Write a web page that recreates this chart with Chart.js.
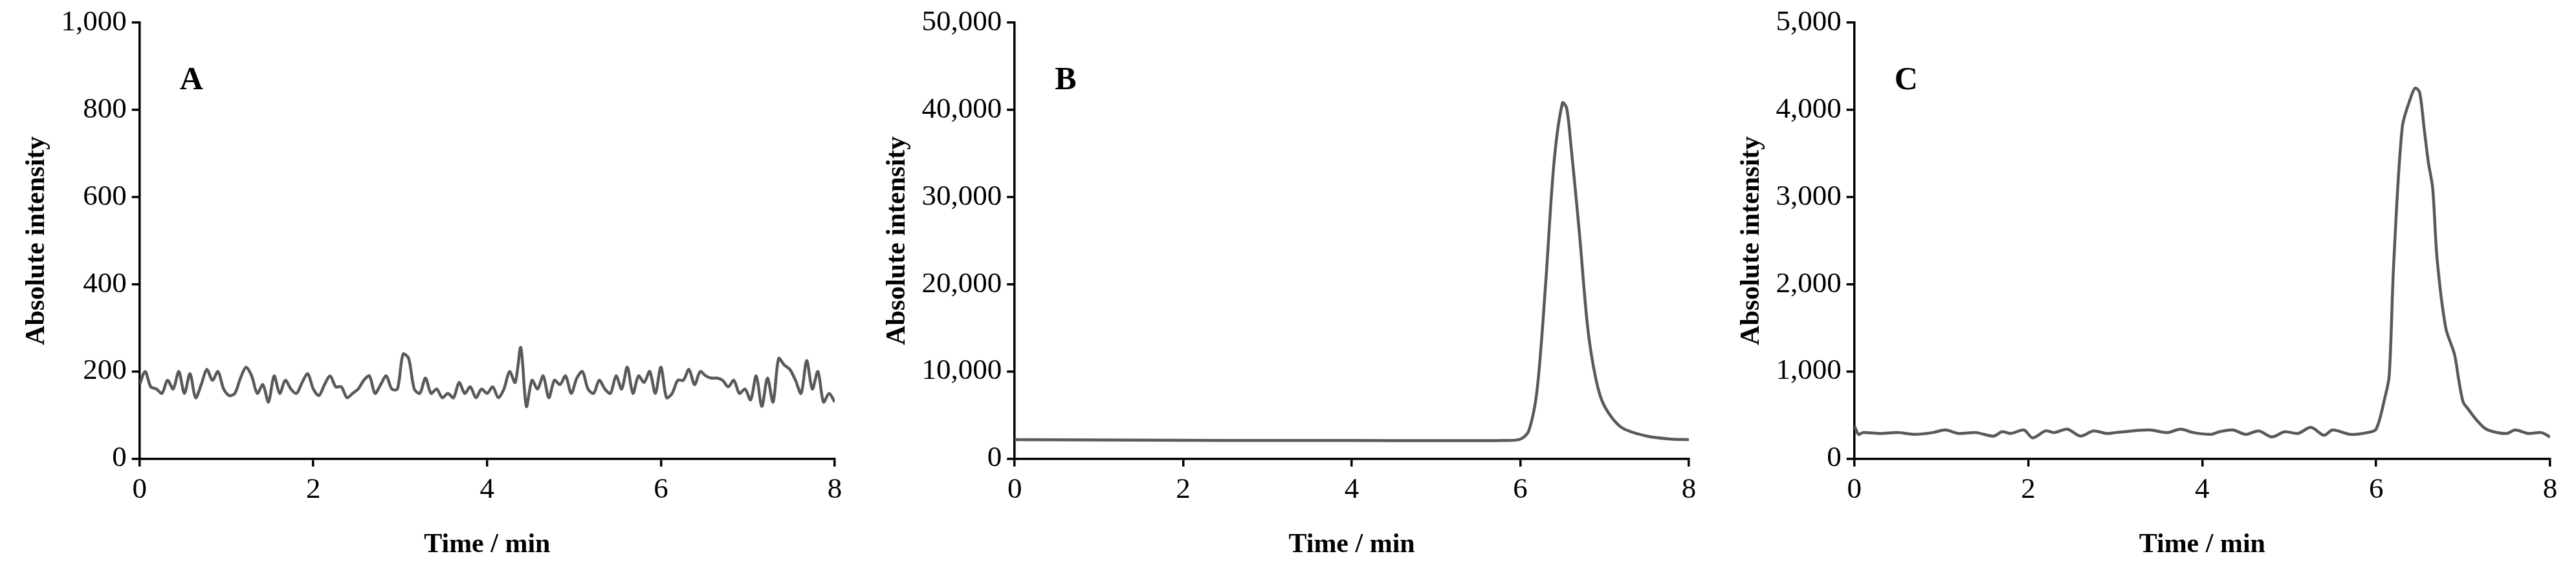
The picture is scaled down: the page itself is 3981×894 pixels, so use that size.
<!DOCTYPE html>
<html>
<head>
<meta charset="utf-8">
<script src="https://cdn.jsdelivr.net/npm/chart.js@4.4.1/dist/chart.umd.min.js"></script>
<style>
body{margin:0;background:#fff;width:3981px;height:894px;overflow:hidden;position:relative}
.box{position:absolute;top:0;height:894px}
</style>
</head>
<body>
<div class="box" style="left:0;width:1330px"><canvas id="cA"></canvas></div>
<div class="box" style="left:1330px;width:1320px"><canvas id="cB"></canvas></div>
<div class="box" style="left:2650px;width:1331px"><canvas id="cC"></canvas></div>
<script>
// panel A: noise only, sampled evenly from 0 to 8 min
const valuesA = [170,200,165,160,150,180,160,200,150,195,140,170,205,180,200,160,145,150,185,210,190,150,170,130,190,150,180,160,150,175,195,160,145,170,190,165,165,140,150,160,180,190,150,170,190,160,160,240,230,160,150,185,150,160,140,150,140,175,150,165,140,160,150,165,140,160,200,175,255,120,180,160,190,140,180,170,190,150,185,200,160,150,180,160,150,190,160,210,150,190,175,200,150,210,140,150,180,180,205,170,200,190,185,185,180,165,180,150,160,135,190,120,185,130,230,215,205,180,150,225,160,200,130,150,130]

// panel B
const timesB = [0,1,2,3,4,5,5.8,6.0,6.1,6.2,6.3,6.4,6.5,6.55,6.6,6.7,6.8,6.9,7.0,7.2,7.5,7.8,8]
const valuesB = [2200,2150,2120,2100,2100,2080,2100,2250,3200,8000,20000,34000,40800,40200,36000,26000,15000,9000,6000,3600,2600,2250,2200]

// panel C
const timesC = [0,0.05,0.1,0.3,0.5,0.7,0.9,1.05,1.2,1.4,1.6,1.7,1.8,1.95,2.05,2.2,2.3,2.45,2.6,2.75,2.9,3.0,3.2,3.4,3.6,3.75,3.9,4.1,4.2,4.35,4.5,4.65,4.8,4.95,5.1,5.25,5.4,5.5,5.7,5.9,6.0,6.1,6.15,6.2,6.3,6.4,6.45,6.5,6.55,6.6,6.65,6.7,6.8,6.9,6.95,7.0,7.05,7.15,7.25,7.35,7.5,7.6,7.75,7.9,8]
const valuesC = [380,280,300,290,300,280,300,330,290,300,260,310,290,330,240,320,300,340,260,320,290,300,320,330,300,340,300,280,310,330,280,320,250,310,290,360,270,330,280,300,340,700,950,2200,3800,4150,4250,4200,3800,3400,3100,2300,1500,1200,900,650,580,450,350,310,290,330,290,300,250]

const timeTicks = [0,2,4,6,8]

// evenly spaced times for panel A
const timesA = valuesA.map((v, i) => i * 8 / (valuesA.length - 1))

const letterPlugin = {
  id: 'letter',
  afterDraw(chart, args, opts) {
    const ctx = chart.ctx, a = chart.chartArea
    ctx.save()
    ctx.font = 'bold 50px "Liberation Serif"'
    ctx.fillStyle = '#000'
    ctx.textBaseline = 'middle'
    ctx.fillText(opts.text, a.left + 62, a.top + 90)
    ctx.restore()
  }
}

function makeChart(id, times, values, ymax, ystep, letter, padL) {
  const pts = times.map((t, i) => ({x: t, y: values[i]}))
  return new Chart(id, {
    type: 'line',
    data: {datasets: [{data: pts, borderColor: '#595959', borderWidth: 4.5, pointRadius: 0, tension: 0.3, fill: false}]},
    plugins: [letterPlugin],
    options: {
      responsive: true, maintainAspectRatio: false, animation: false,
      layout: {padding: {left: padL, right: 40, top: 30, bottom: 22}},
      plugins: {legend: {display: false}, tooltip: {enabled: false}, letter: {text: letter}},
      scales: {
        x: {
          type: 'linear', min: 0, max: 8,
          afterBuildTicks: s => { s.ticks = timeTicks.map(v => ({value: v})) },
          border: {color: '#000', width: 3.5},
          grid: {drawOnChartArea: false, color: '#000', lineWidth: 3.5, tickLength: 12},
          ticks: {color: '#000', font: {family: 'Liberation Serif', size: 45}, padding: 10, maxRotation: 0},
          title: {display: true, text: 'Time / min', color: '#000', font: {family: 'Liberation Serif', size: 42, weight: 'bold'}, padding: {top: 22}}
        },
        y: {
          min: 0, max: ymax,
          ticks: {stepSize: ystep, color: '#000', font: {family: 'Liberation Serif', size: 45}, padding: 8,
            callback: v => v.toLocaleString('en-US')},
          border: {color: '#000', width: 3.5},
          grid: {drawOnChartArea: false, color: '#000', lineWidth: 3.5, tickLength: 12},
          title: {display: true, text: 'Absolute intensity', color: '#000', font: {family: 'Liberation Serif', size: 42, weight: 'bold'}, padding: {bottom: 4}}
        }
      }
    }
  })
}

makeChart('cA', timesA, valuesA, 1000, 200, 'A', 28)
makeChart('cB', timesB, valuesB, 50000, 10000, 'B', 28)
makeChart('cC', timesC, valuesC, 5000, 1000, 'C', 28)
</script>
</body>
</html>
